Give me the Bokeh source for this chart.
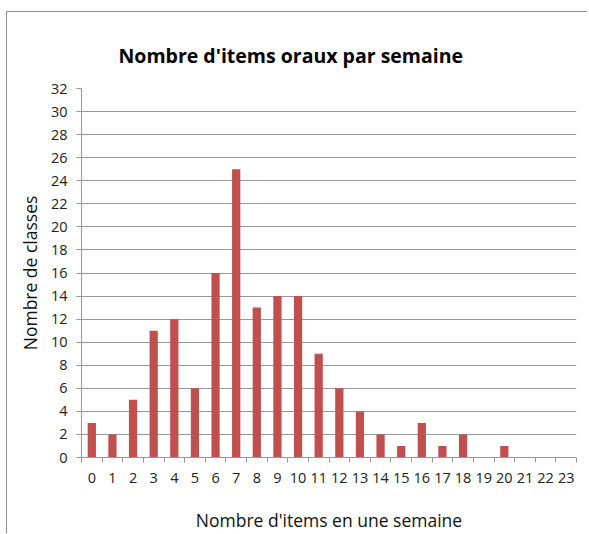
from bokeh.plotting import figure
from bokeh.models import Range1d, FixedTicker, ColumnDataSource, Title
from bokeh.embed import file_html
from bokeh.resources import INLINE

items = list(range(24))
classes = [3, 2, 5, 11, 12, 6, 16, 25, 13, 14, 14, 9, 6, 4, 2, 1, 3, 1, 2, 0, 1, 0, 0, 0]
y_ticks = list(range(0, 33, 2))

FONT = "Open Sans"
GRID = "#989898"

src = ColumnDataSource(dict(x=items, y=classes))

p = figure(width=581, height=522, output_backend="svg", toolbar_location=None,
           x_range=Range1d(-0.5, 23.5), y_range=Range1d(0, 32),
           min_border_left=74, min_border_right=12, min_border_top=76, min_border_bottom=77,
           styles={"border-top": "1px solid #8c8c8c", "border-left": "1px solid #8c8c8c",
                   "margin-top": "11px", "margin-left": "6px"})
p.outline_line_color = None
p.background_fill_color = "white"
p.border_fill_color = "white"

t = Title(text="Nombre d'items oraux par semaine", align="left", offset=37,
          text_font=FONT, text_font_size="19.5px", text_font_style="bold",
          text_color="black", standoff=40)
p.add_layout(t, "above")

p.vbar(x="x", top="y", width=0.4, source=src, fill_color="#C0504D", line_color=None)

p.xaxis.ticker = FixedTicker(ticks=items, minor_ticks=[i - 0.5 for i in range(25)])
p.xaxis.major_tick_out = 0
p.xaxis.major_tick_in = 0
p.xaxis.minor_tick_out = 5
p.xaxis.minor_tick_in = 0
p.xaxis.minor_tick_line_color = GRID
p.xaxis.axis_label = "Nombre d'items en une semaine"

p.yaxis.ticker = FixedTicker(ticks=y_ticks)
p.yaxis.major_tick_out = 5
p.yaxis.major_tick_in = 0
p.yaxis.minor_tick_line_color = None
p.yaxis.axis_label = "Nombre de classes"

for ax in (p.xaxis, p.yaxis):
    ax.axis_line_color = GRID
    ax.major_tick_line_color = GRID
    ax.major_label_text_font = FONT
    ax.major_label_text_font_size = "14.5px"
    ax.major_label_text_color = "#222222"
    ax.axis_label_text_font = FONT
    ax.axis_label_text_font_size = "17.5px"
    ax.axis_label_text_font_style = "normal"
    ax.axis_label_text_color = "#111111"

p.xaxis.major_label_standoff = 10
p.xaxis.axis_label_standoff = 22
p.yaxis.major_label_standoff = 9
p.yaxis.axis_label_standoff = 6

p.xgrid.grid_line_color = None
p.ygrid.ticker = FixedTicker(ticks=y_ticks)
p.ygrid.grid_line_color = GRID
p.ygrid.grid_line_width = 1

open("out.html", "w").write(file_html(p, INLINE))
